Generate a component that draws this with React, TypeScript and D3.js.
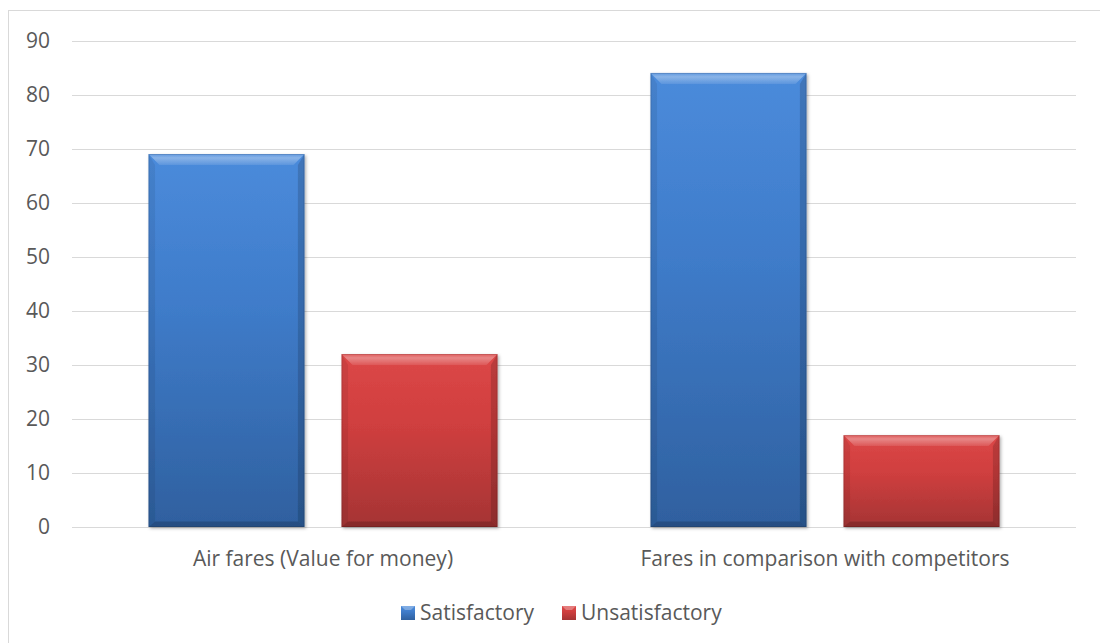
import React from "react";
import * as d3 from "d3";

const categories = ["Air fares (Value for money)", "Fares in comparison with competitors"];
const seriesNames = ["Satisfactory", "Unsatisfactory"];
const satisfactory = [69, 84];
const unsatisfactory = [32, 17];
const yTicks = [0, 10, 20, 30, 40, 50, 60, 70, 80, 90];

const W = 1100;
const H = 643;
const plotLeft = 72;
const plotRight = 1076;
const plotTop = 40.5;
const plotBottom = 527;

const colors = [
  { top: "#4b8bdb", mid: "#3f7cca", bottom: "#2f609f" },
  { top: "#dc4747", mid: "#d03f3f", bottom: "#a53434" },
];

function Bar({ x, y, w, h, idx }: { x: number; y: number; w: number; h: number; idx: number }) {
  const b = Math.min(11, h / 2);
  return (
    <g filter="url(#shadow)">
      <rect x={x} y={y} width={w} height={h} fill={`url(#grad${idx})`} />
      <polygon
        points={`${x},${y} ${x + w},${y} ${x + w - b},${y + b} ${x + b},${y + b}`}
        fill={`url(#topBevel${idx})`}
      />
      <polygon
        points={`${x},${y} ${x + b * 0.6},${y + b} ${x + b * 0.6},${y + h - b * 0.5} ${x},${y + h}`}
        fill="#000"
        opacity={0.07}
      />
      <polygon
        points={`${x + w},${y} ${x + w - b * 0.6},${y + b} ${x + w - b * 0.6},${y + h - b * 0.5} ${x + w},${y + h}`}
        fill="#000"
        opacity={0.15}
      />
      <polygon
        points={`${x},${y + h} ${x + b * 0.6},${y + h - b * 0.5} ${x + w - b * 0.6},${y + h - b * 0.5} ${x + w},${y + h}`}
        fill="#000"
        opacity={0.18}
      />
      <rect x={x + 0.5} y={y + 0.5} width={w - 1} height={h - 1} fill="none" stroke="#000" strokeOpacity={0.12} />
    </g>
  );
}

export default function App() {
  const y = d3.scaleLinear().domain([0, 90]).range([plotBottom, plotTop]);
  const x0 = d3.scaleBand<string>().domain(categories).range([plotLeft, plotRight]).paddingInner(0).paddingOuter(0);
  const bw = 156;
  const gap = 37;
  const data = [satisfactory, unsatisfactory];
  const font = "'Open Sans', sans-serif";
  const fs = 21;

  return (
    <svg
      width={W}
      height={H}
      style={{ position: "fixed", left: 0, top: 0, background: "#fff" }}
      fontFamily={font}
    >
      <defs>
        {colors.map((c, i) => (
          <linearGradient key={i} id={`grad${i}`} x1="0" y1="0" x2="0" y2="1">
            <stop offset="0%" stopColor={c.top} />
            <stop offset="40%" stopColor={c.mid} />
            <stop offset="100%" stopColor={c.bottom} />
          </linearGradient>
        ))}
        {colors.map((c, i) => (
          <linearGradient key={"t" + i} id={`topBevel${i}`} x1="0" y1="0" x2="0" y2="1">
            <stop offset="0%" stopColor="#fff" stopOpacity={0.12} />
            <stop offset="35%" stopColor="#fff" stopOpacity={0.35} />
            <stop offset="100%" stopColor="#fff" stopOpacity={0.1} />
          </linearGradient>
        ))}
        <filter id="shadow" x="-10%" y="-10%" width="130%" height="130%">
          <feDropShadow dx="1.5" dy="1.5" stdDeviation="1.5" floodColor="#000" floodOpacity={0.3} />
        </filter>
      </defs>
      <rect x={0} y={0} width={W} height={H} fill="#fff" />
      <rect x={8.5} y={10.5} width={1200} height={800} fill="none" stroke="#d9d9d9" strokeWidth={1} />
      {yTicks.map((t) => (
        <g key={t}>
          <line x1={plotLeft} x2={plotRight} y1={Math.round(y(t)) + 0.5} y2={Math.round(y(t)) + 0.5} stroke="#d9d9d9" strokeWidth={1.2} />
          <text x={50} y={y(t)} dy="0.35em" textAnchor="end" fontSize={fs} fill="#595959">
            {t}
          </text>
        </g>
      ))}
      {categories.map((c, ci) => {
        const center = (x0(c) as number) + x0.bandwidth() / 2;
        const start = center - (2 * bw + gap) / 2;
        return (
          <g key={c}>
            {data.map((s, si) => {
              const bx = start + si * (bw + gap);
              const top = y(s[ci]);
              return <Bar key={si} x={bx} y={top} w={bw} h={plotBottom - top} idx={si} />;
            })}
            <text x={center} y={566} textAnchor="middle" fontSize={fs} fill="#595959">
              {c}
            </text>
          </g>
        );
      })}
      {seriesNames.map((n, i) => {
        const lx = i === 0 ? 401 : 562;
        return (
          <g key={n}>
            <rect x={lx} y={606} width={14} height={14} fill={`url(#grad${i})`} />
            <polygon points={`${lx},606 ${lx + 14},606 ${lx + 10},610 ${lx + 4},610`} fill="#fff" opacity={0.3} />
            <text x={lx + 19} y={613} dy="0.35em" fontSize={fs} fill="#595959">
              {n}
            </text>
          </g>
        );
      })}
    </svg>
  );
}
